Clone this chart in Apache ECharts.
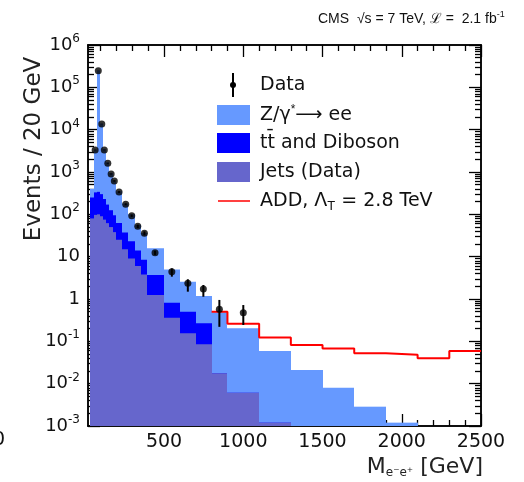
<!DOCTYPE html>
<html><head><meta charset="utf-8">
<script src="https://cdn.jsdelivr.net/npm/echarts@6/dist/echarts.min.js"></script>
<style>html,body{margin:0;padding:0;background:#fff}#c{width:524px;height:482px}</style>
</head><body><div id="c"></div>
<script>
// ---- data ----
const binEdges = [35,55,75,95,115,135,155,175,195,235,275,315,355,395,500,600,700,800,900,1100,1300,1500,1700,1900,2100];
const zeeTop = [400,3400,250000,14000,3500,1700,950,640,350,180,100,56,36,15.8,5.0,2.57,1.18,0.485,0.203,0.059,0.021,0.008,0.00286,0.0012];
const ttDibosonTop = [250,330,340,300,230,170,125,95,62,37,23,14,8.5,3.69,0.82,0.5,0.267,0.0176,0.0061,0.0012,0,0,0,0];
const jetsTop = [80,97,100,90,75,62,50,38,25,15,9,6,3.8,1.24,0.36,0.155,0.085,0.0176,0.0061,0.0012,0,0,0,0];
const addEdges = [800,900,1100,1300,1500,1700,1900,2100,2300,2500];
const addValues = [0.50,0.26,0.124,0.082,0.068,0.052,0.048,0.040,0.059];
const dataMass = [65,85,107,123,145,166,186,216,258,296,334,376,443,549,650,748,849,1000];
const dataEvents = [3311,248000,13600,3311,1607,898,614,337,173,93,52,35.7,12.4,4.42,2.35,1.72,0.57,0.475];
const dataLow  = [3250,247000,13450,3250,1570,870,590,320,164,87,47.5,32,11,3.37,1.49,1.13,0.22,0.243];
const dataHigh = [3370,249000,13750,3370,1645,926,638,354,182,99,57,39.5,13.8,5.3,2.92,2.14,0.95,0.72];
const xTickLabels = [500,1000,1500,2000,2500];
const yTickValues = [1e-3,1e-2,1e-1,1,10,1e2,1e3,1e4,1e5,1e6];
const yTickLabels = ['10{sup|-3}','10{sup|-2}','10{sup|-1}','1','10','10{sup|2}','10{sup|3}','10{sup|4}','10{sup|5}','10{sup|6}'];

const xMinor = []; for (let v = 100; v < 2500; v += 100) if (v % 500) xMinor.push(v);
const yMinor = []; for (let e = -3; e < 6; e++) for (let m = 2; m < 10; m++) yMinor.push(m * Math.pow(10, e));

const FONT = 'DejaVu Sans';
const C_Z = '#6699ff', C_TT = '#0000ff', C_J = '#6666cc', C_ADD = '#ff0000';

function histData(tops) {
  const out = [];
  for (let i = 0; i < tops.length; i++) if (tops[i] > 0) out.push([binEdges[i], binEdges[i + 1], tops[i]]);
  return out;
}
function histSeries(name, tops, color, z) {
  return {
    type: 'custom', name: name, xAxisIndex: 0, yAxisIndex: 0, z: z, clip: true,
    data: histData(tops), encode: { x: [0, 1], y: 2 },
    renderItem: function (params, api) {
      const a = api.coord([api.value(0), api.value(2)]);
      const b = api.coord([api.value(1), 1e-3]);
      const x0 = Math.round(a[0]), x1 = Math.round(b[0]);
      return { type: 'rect', shape: { x: x0, y: a[1], width: x1 - x0, height: b[1] - a[1] },
               style: { fill: color } };
    }
  };
}
const addData = addEdges.map((e, i) => [e, addValues[Math.min(i, addValues.length - 1)]]);
const errData = dataMass.map((m, i) => [m, dataLow[i], dataHigh[i]]);
const ptData = dataMass.map((m, i) => [m, dataEvents[i]]);

const axisLine = { show: true, lineStyle: { color: '#000', width: 1.5 } };
function xAx(pos, ticks, len, labels) {
  return { type: 'value', position: pos, min: 20, max: 2500, gridIndex: 0,
    axisLine: axisLine, splitLine: { show: false },
    axisTick: { show: true, inside: true, length: len, customValues: ticks, lineStyle: { color: '#000', width: 1.3 } },
    axisLabel: labels ? { show: true, customValues: xTickLabels, formatter: function (v) { return String(v); },
      fontFamily: FONT, fontSize: 19, color: '#111', margin: 7 } : { show: false } };
}
function yAx(pos, ticks, len, labels) {
  return { type: 'log', logBase: 10, position: pos, min: 1e-3, max: 1e6, gridIndex: 0,
    axisLine: axisLine, splitLine: { show: false },
    axisTick: { show: true, inside: true, length: len, customValues: ticks, lineStyle: { color: '#000', width: 1.3 } },
    axisLabel: labels ? { show: true, customValues: yTickValues, margin: 8,
      formatter: function (v) { const e = Math.round(Math.log10(v)); return yTickLabels[e + 3]; },
      rich: { sup: { fontFamily: FONT, fontSize: 12, color: '#111', padding: [0, 0, 12, 0] } },
      fontFamily: FONT, fontSize: 18, color: '#111' } : { show: false } };
}

const chart = echarts.init(document.getElementById('c'), null, { renderer: 'canvas' });
chart.setOption({
  animation: false,
  backgroundColor: '#fff',
  grid: { left: 88, right: 43, top: 45, bottom: 56, containLabel: false, outerBoundsMode: 'none' },
  xAxis: [xAx('bottom', xTickLabels, 12, true), xAx('bottom', xMinor, 6, false),
          xAx('top', xTickLabels, 12, false), xAx('top', xMinor, 6, false)],
  yAxis: [yAx('left', yTickValues, 12, true), yAx('left', yMinor, 6, false),
          yAx('right', yTickValues, 12, false), yAx('right', yMinor, 6, false)],
  series: [
    histSeries('Z/γ* → ee', zeeTop, C_Z, 1),
    histSeries('tt and Diboson', ttDibosonTop, C_TT, 2),
    histSeries('Jets (Data)', jetsTop, C_J, 3),
    { type: 'line', name: 'ADD', step: 'end', data: addData, symbol: 'none', z: 4,
      lineStyle: { color: C_ADD, width: 2 }, xAxisIndex: 0, yAxisIndex: 0 },
    { type: 'custom', name: 'Data err', z: 5, data: errData, encode: { x: 0, y: [1, 2] },
      renderItem: function (params, api) {
        const a = api.coord([api.value(0), api.value(1)]);
        const b = api.coord([api.value(0), api.value(2)]);
        return { type: 'line', shape: { x1: a[0], y1: a[1], x2: b[0], y2: b[1] }, style: { stroke: '#000', lineWidth: 2 } };
      } },
    { type: 'scatter', name: 'Data', data: ptData, symbol: 'circle', symbolSize: 7, z: 6,
      itemStyle: { color: '#000' } }
  ],
  graphic: [
    { type: 'text', x: 318, y: 19, style: { text: 'CMS  √s = 7 TeV, ℒ =  2.1 fb{sup|-1}', fontFamily: 'Liberation Sans', fontSize: 14, fill: '#111',
        verticalAlign: 'middle', rich: { sup: { fontFamily: 'Liberation Sans', fontSize: 9, padding: [0, 0, 8, 0], fill: '#111' } } } },
    { type: 'text', x: 34, y: 149, rotation: Math.PI / 2, style: { text: 'Events / 20 GeV', fontFamily: FONT, fontSize: 23, fill: '#222',
        align: 'center', verticalAlign: 'middle' } },
    { type: 'text', x: 483, y: 467, style: { text: 'M{sub|e⁻e⁺} [GeV]', fontFamily: FONT, fontSize: 22, fill: '#222',
        align: 'right', verticalAlign: 'middle', rich: { sub: { fontFamily: FONT, fontSize: 12, padding: [12, 0, 0, 0], fill: '#222' } } } },
    { type: 'text', x: -7, y: 440, style: { text: '0', fontFamily: FONT, fontSize: 19, fill: '#111', verticalAlign: 'middle' } },
    // legend
    { type: 'line', shape: { x1: 233, y1: 73, x2: 233, y2: 97 }, style: { stroke: '#000', lineWidth: 2 } },
    { type: 'circle', shape: { cx: 233, cy: 85, r: 3 }, style: { fill: '#000' } },
    { type: 'text', x: 260, y: 85, style: { text: 'Data', fontFamily: FONT, fontSize: 19, fill: '#111', verticalAlign: 'middle' } },
    { type: 'rect', shape: { x: 217, y: 105, width: 33, height: 20 }, style: { fill: C_Z } },
    { type: 'text', x: 260, y: 115, style: { text: 'Z/γ{sup|*}⟶ ee', fontFamily: FONT, fontSize: 19, fill: '#111', verticalAlign: 'middle',
        rich: { sup: { fontSize: 12, padding: [0, 0, 10, 0], fill: '#111' } } } },
    { type: 'rect', shape: { x: 217, y: 133, width: 33, height: 20 }, style: { fill: C_TT } },
    { type: 'text', x: 260, y: 143, style: { text: 'tt\u0304 and Diboson', fontFamily: FONT, fontSize: 19, fill: '#111', verticalAlign: 'middle' } },
    { type: 'rect', shape: { x: 217, y: 162, width: 33, height: 20 }, style: { fill: C_J } },
    { type: 'text', x: 260, y: 172, style: { text: 'Jets (Data)', fontFamily: FONT, fontSize: 19, fill: '#111', verticalAlign: 'middle' } },
    { type: 'line', shape: { x1: 218, y1: 201, x2: 250, y2: 201 }, style: { stroke: C_ADD, lineWidth: 1.5 } },
    { type: 'text', x: 260, y: 201, style: { text: 'ADD, Λ{sub|T} = 2.8 TeV', fontFamily: FONT, fontSize: 19, fill: '#111', verticalAlign: 'middle',
        rich: { sub: { fontSize: 13, padding: [10, 0, 0, 0], fill: '#111' } } } }
  ]
});
</script></body></html>
